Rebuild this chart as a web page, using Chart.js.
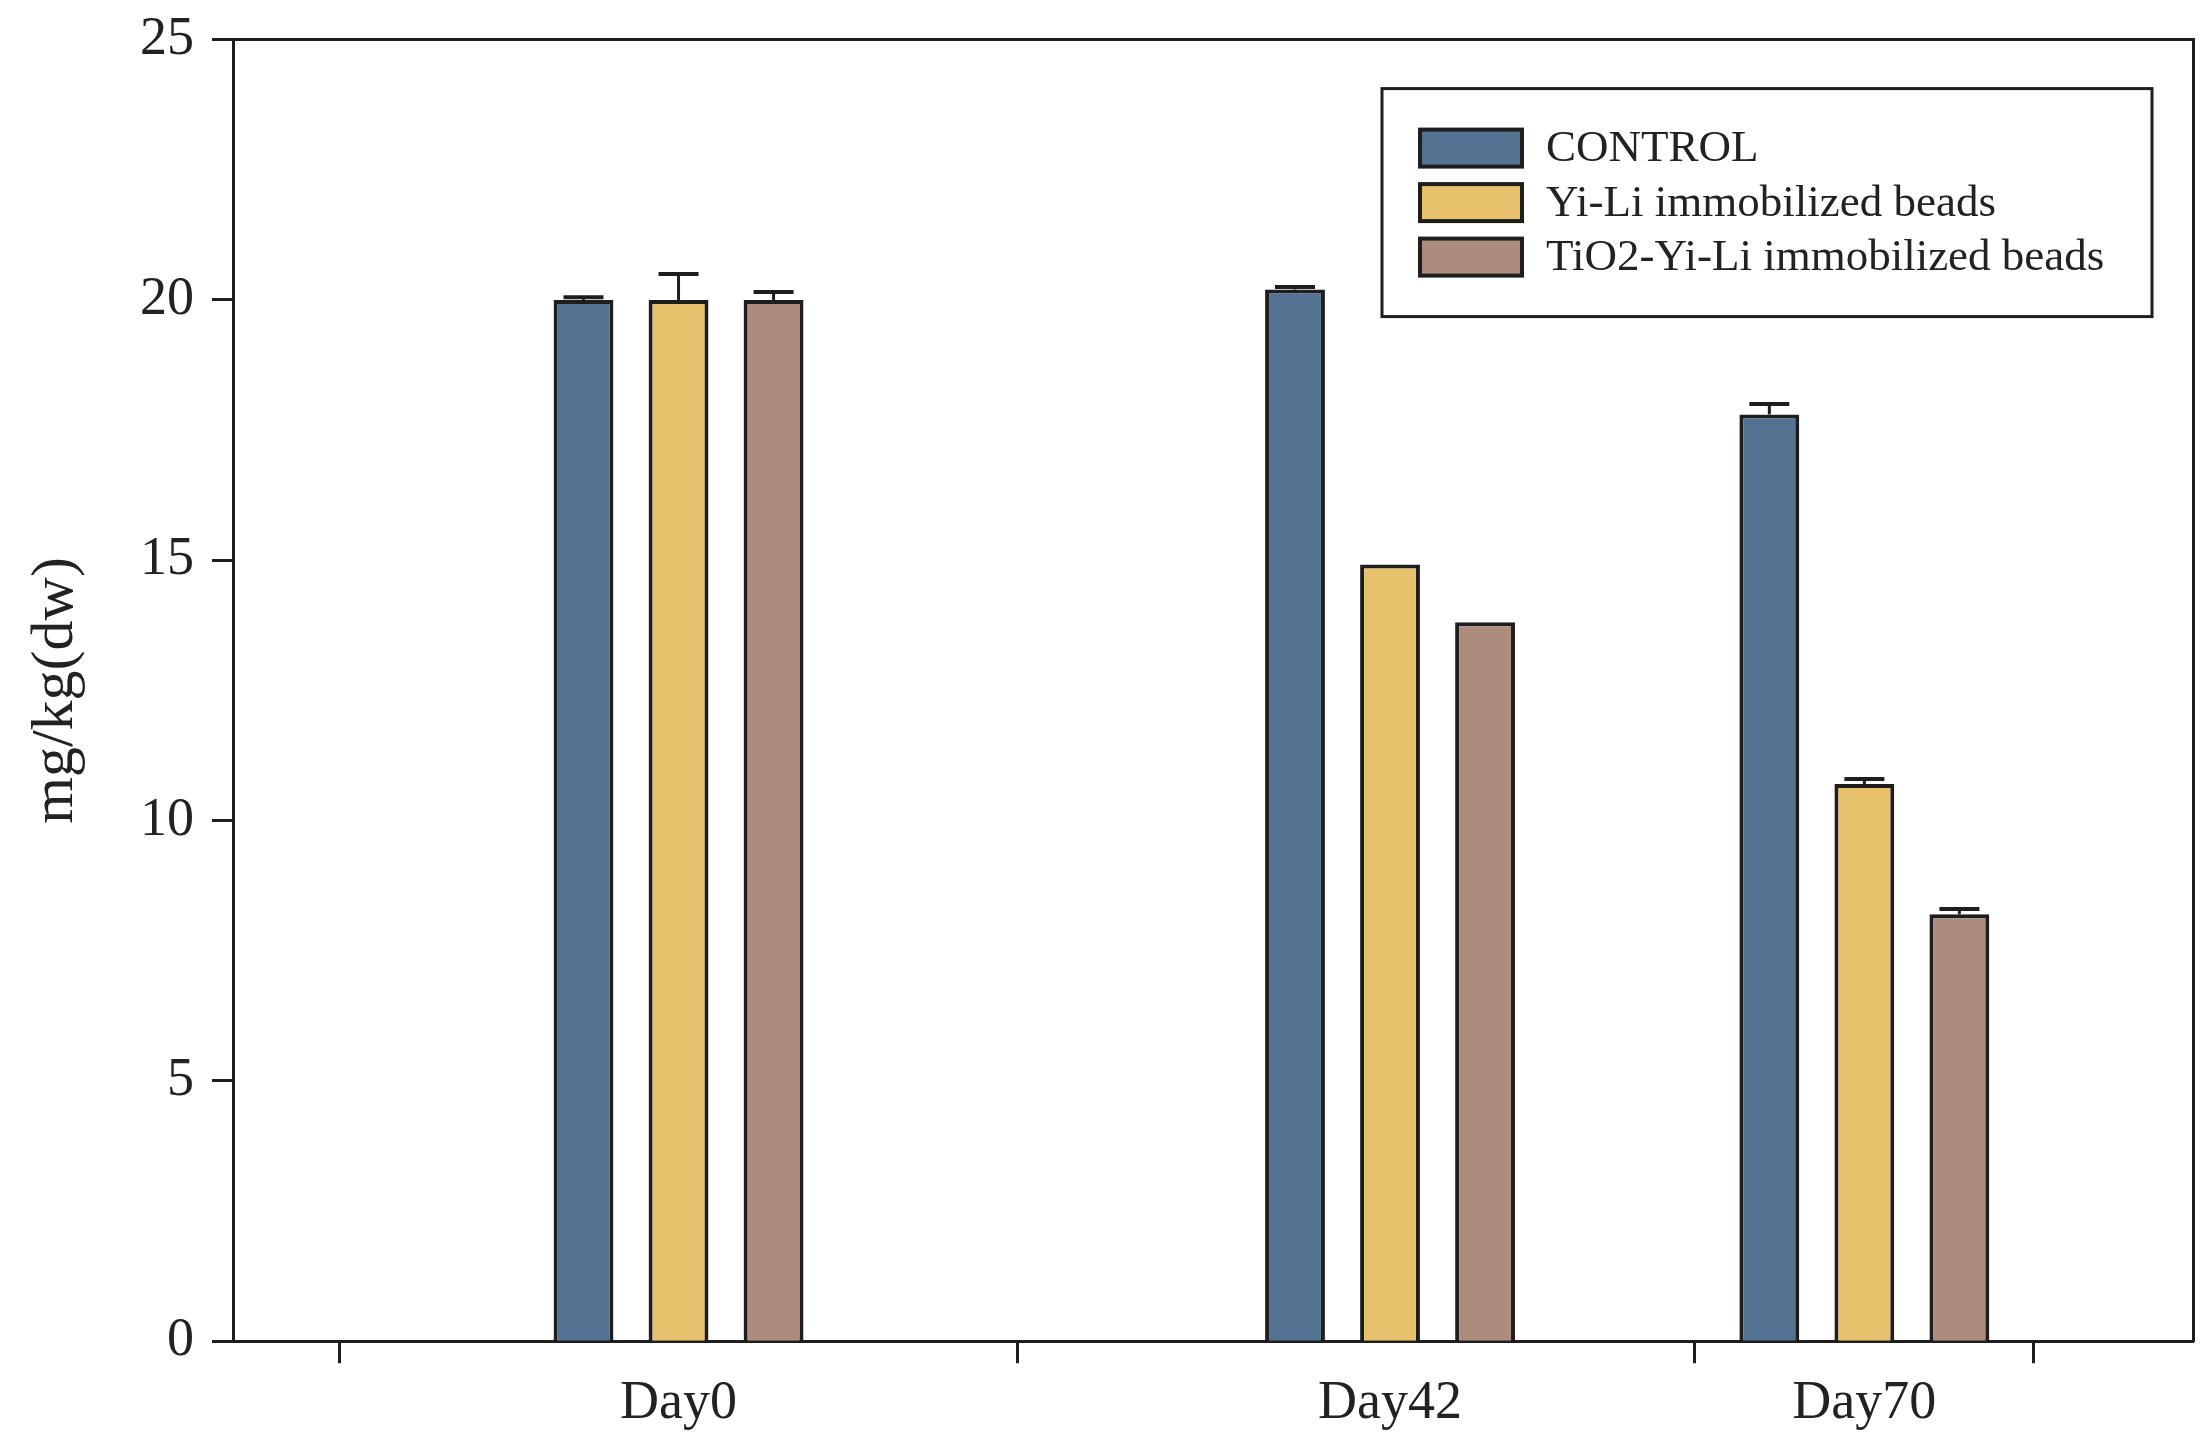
<!DOCTYPE html>
<html>
<head>
<meta charset="utf-8">
<script src="https://cdn.jsdelivr.net/npm/chart.js@4/dist/chart.umd.min.js"></script>
<style>
  html, body { margin: 0; padding: 0; background: #fff; }
  #wrap { width: 2208px; height: 1452px; }
</style>
</head>
<body>
<div id="wrap"><canvas id="chart"></canvas></div>
<script>
// --- DATA ---
const days = [0, 42, 70];
const dayLabels = ['Day0', 'Day42', 'Day70'];
const seriesNames = ['CONTROL', 'Yi-Li immobilized beads', 'TiO2-Yi-Li immobilized beads'];
const controlVals = [20.0, 20.2, 17.8];
const yiliVals = [20.0, 14.92, 10.7];
const tio2Vals = [20.0, 13.81, 8.2];
const controlErr = [0.05, 0.05, 0.2];
const yiliErr = [0.5, 0, 0.1];
const tio2Err = [0.15, 0, 0.1];
const xTickMarks = [-20, 20, 60, 80];
const yTicks = [0, 5, 10, 15, 20, 25];

const colors = ['#547291', '#e7c06c', '#ad8c7e'];
const INK = '#1e1e1e';
const FONT = '"Liberation Serif", "Times New Roman", serif';
const X_MIN = -26.3, X_MAX = 89.4;

const allVals = [controlVals, yiliVals, tio2Vals];
const allErr = [controlErr, yiliErr, tio2Err];

// --- ERROR BARS ---
const errorBars = {
  id: 'errorBars',
  afterDatasetsDraw(chart) {
    const ctx = chart.ctx, y = chart.scales.y;
    ctx.save();
    ctx.strokeStyle = INK;
    chart.data.datasets.forEach((ds, i) => {
      chart.getDatasetMeta(i).data.forEach((bar, j) => {
        let err = allErr[i][j];
        if (!err) return;
        let top = y.getPixelForValue(allVals[i][j] + err);
        ctx.lineWidth = 3;
        ctx.beginPath(); ctx.moveTo(bar.x, bar.y); ctx.lineTo(bar.x, top); ctx.stroke();
        ctx.lineWidth = 4;
        ctx.beginPath(); ctx.moveTo(bar.x - 20, top); ctx.lineTo(bar.x + 20, top); ctx.stroke();
      });
    });
    ctx.restore();
  }
};

// --- LEGEND BOX (inside plot, top right) ---
const boxLegend = {
  id: 'boxLegend',
  afterDraw(chart) {
    const ctx = chart.ctx, a = chart.chartArea;
    let bx = a.right - 811, by = a.top + 49, bw = 770, bh = 228;
    ctx.save();
    ctx.lineWidth = 3; ctx.strokeStyle = INK;
    ctx.strokeRect(bx, by, bw, bh);
    ctx.font = '45px ' + FONT;
    ctx.textBaseline = 'middle';
    chart.data.datasets.forEach((ds, i) => {
      let cy = by + 59 + i * 54.5;
      ctx.fillStyle = ds.backgroundColor;
      ctx.fillRect(bx + 38, cy - 18, 102, 37);
      ctx.lineWidth = 4;
      ctx.strokeRect(bx + 38, cy - 18, 102, 37);
      ctx.fillStyle = '#222';
      ctx.fillText(ds.label, bx + 164, cy + 2);
    });
    ctx.restore();
  }
};

const datasets = seriesNames.map((name, i) => ({
  label: name,
  data: days.map((d, j) => ({ x: d, y: allVals[i][j] })),
  backgroundColor: colors[i],
  borderColor: INK,
  borderWidth: 4,
  xAxisID: 'x',
  yAxisID: 'y'
}));

new Chart(document.getElementById('chart'), {
  type: 'bar',
  data: { datasets: datasets },
  plugins: [errorBars, boxLegend],
  options: {
    responsive: true,
    maintainAspectRatio: false,
    devicePixelRatio: 1,
    animation: false,
    categoryPercentage: 0.601,
    barPercentage: 0.63,
    layout: { padding: { left: 20, right: 15, top: 26, bottom: 16 } },
    plugins: { legend: { display: false }, tooltip: { enabled: false } },
    scales: {
      x: {
        type: 'linear', position: 'bottom', weight: 1, offset: false,
        min: X_MIN, max: X_MAX,
        afterBuildTicks: s => { s.ticks = days.map(v => ({ value: v })); },
        grid: { display: false, offset: false },
        border: { display: false },
        ticks: {
          callback: v => dayLabels[days.indexOf(v)],
          font: { family: FONT, size: 54 }, color: '#222',
          padding: 0, maxRotation: 0, autoSkip: false
        }
      },
      xt: {
        type: 'linear', position: 'bottom', weight: 0, offset: false,
        min: X_MIN, max: X_MAX,
        afterBuildTicks: s => { s.ticks = xTickMarks.map(v => ({ value: v })); },
        grid: { display: true, offset: false, drawOnChartArea: false, tickLength: 22, tickWidth: 3, tickColor: INK },
        border: { display: true, color: INK, width: 3 },
        ticks: { display: false }
      },
      xtop: {
        type: 'linear', position: 'top', offset: false, min: X_MIN, max: X_MAX,
        afterFit: s => { s.height = 0; },
        grid: { display: false }, ticks: { display: false },
        border: { display: true, color: INK, width: 3 }
      },
      y: {
        type: 'linear', position: 'left', min: 0, max: 25,
        afterBuildTicks: s => { s.ticks = yTicks.map(v => ({ value: v })); },
        grid: { display: true, drawOnChartArea: false, tickLength: 21, tickWidth: 3, tickColor: INK },
        border: { display: true, color: INK, width: 3 },
        ticks: { font: { family: FONT, size: 54, lineHeight: 0.8 }, color: '#222', padding: 18 },
        title: { display: true, text: 'mg/kg(dw)', font: { family: FONT, size: 60 }, color: '#222', padding: { top: 0, bottom: 30 } }
      },
      yr: {
        type: 'linear', position: 'right', min: 0, max: 25,
        afterFit: s => { s.width = 0; },
        grid: { display: false }, ticks: { display: false },
        border: { display: true, color: INK, width: 3 }
      }
    }
  }
});
</script>
</body>
</html>
